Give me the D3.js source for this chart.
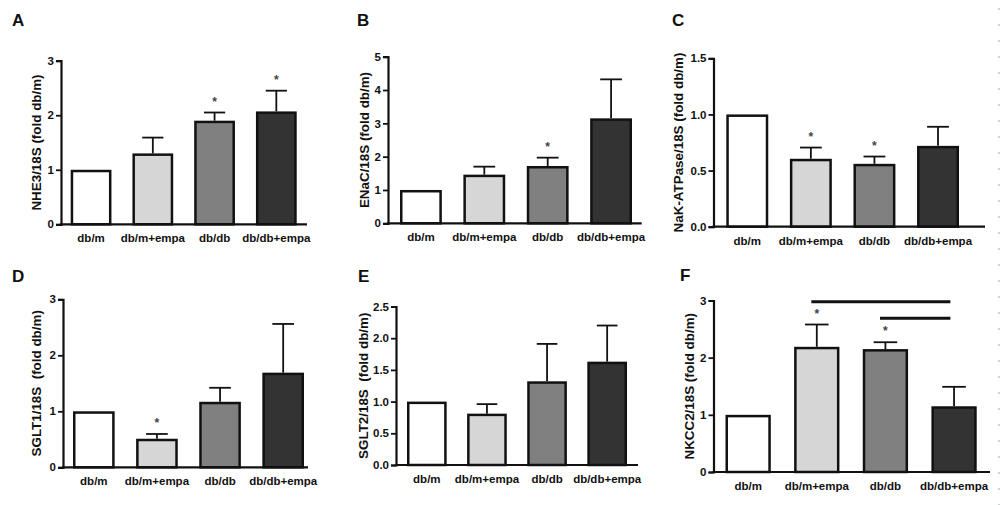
<!DOCTYPE html>
<html><head><meta charset="utf-8">
<script src="https://cdn.jsdelivr.net/npm/d3@7/dist/d3.min.js"></script>
<style>
html,body{margin:0;padding:0;background:#fff;}
svg{display:block;}
text{font-family:"Liberation Sans",Arial,sans-serif;font-weight:bold;fill:#111;}
</style></head>
<body>
<svg id="chart" width="1000" height="505"></svg>
<script>
const categories = ["db/m", "db/m+empa", "db/db", "db/db+empa"];
const barColors = ["#ffffff", "#d6d6d6", "#808080", "#333333"];
const panelLetters = ["A", "B", "C", "D", "E", "F"];
const yLabels = ["NHE3/18S (fold db/m)", "ENaC/18S (fold db/m)", "NaK-ATPase/18S (fold db/m)",
                 "SGLT1/18S  (fold db/m)", "SGLT2/18S  (fold db/m)", "NKCC2/18S (fold db/m)"];

const nhe3Mean = [1, 1.30, 1.90, 2.07];
const nhe3Sem = [0, 0.29, 0.15, 0.38];
const nhe3Star = [false, false, true, true];
const nhe3Ticks = [0, 1, 2, 3];

const enacMean = [1, 1.46, 1.72, 3.15];
const enacSem = [0, 0.24, 0.25, 1.17];
const enacStar = [false, false, true, false];
const enacTicks = [0, 1, 2, 3, 4, 5];

const nakMean = [1, 0.605, 0.56, 0.72];
const nakSem = [0, 0.10, 0.065, 0.17];
const nakStar = [false, true, true, false];
const nakTicks = [0, 0.5, 1.0, 1.5];

const sglt1Mean = [1, 0.51, 1.17, 1.69];
const sglt1Sem = [0, 0.085, 0.25, 0.87];
const sglt1Star = [false, true, false, false];
const sglt1Ticks = [0, 1, 2, 3];

const sglt2Mean = [1, 0.81, 1.32, 1.63];
const sglt2Sem = [0, 0.15, 0.59, 0.57];
const sglt2Star = [false, false, false, false];
const sglt2Ticks = [0, 0.5, 1.0, 1.5, 2.0, 2.5];

const nkcc2Mean = [1, 2.19, 2.15, 1.15];
const nkcc2Sem = [0, 0.39, 0.12, 0.34];
const nkcc2Star = [false, true, true, false];
const nkcc2Ticks = [0, 1, 2, 3];
const nkcc2SigFrom = [1, 2];
const nkcc2SigTo = [3, 3];
const nkcc2SigLevel = [2.98, 2.69];

const panelsData = [
  {mean: nhe3Mean, sem: nhe3Sem, star: nhe3Star, ticks: nhe3Ticks, dec: 0},
  {mean: enacMean, sem: enacSem, star: enacStar, ticks: enacTicks, dec: 0},
  {mean: nakMean, sem: nakSem, star: nakStar, ticks: nakTicks, dec: 1},
  {mean: sglt1Mean, sem: sglt1Sem, star: sglt1Star, ticks: sglt1Ticks, dec: 0},
  {mean: sglt2Mean, sem: sglt2Sem, star: sglt2Star, ticks: sglt2Ticks, dec: 1},
  {mean: nkcc2Mean, sem: nkcc2Sem, star: nkcc2Star, ticks: nkcc2Ticks, dec: 0,
   sig: nkcc2SigFrom.map((f, i) => ({from: f, to: nkcc2SigTo[i], level: nkcc2SigLevel[i]}))}
];

// layout (pixels)
const layouts = [
  {ax: 61,    y0: 224.3, yTop: 60.7,  xEnd: 307,   b0: 70.7,  b1: 296.7, lx: 12,  ly: 26,  lo: 24},
  {ax: 388,   y0: 223.3, yTop: 56.7,  xEnd: 641.7, b0: 400,   b1: 632,   lx: 357, ly: 26,  lo: 23},
  {ax: 713.5, y0: 226.7, yTop: 58.3,  xEnd: 985,   b0: 726.3, b1: 959,   lx: 672, ly: 26,  lo: 34},
  {ax: 63,    y0: 467.3, yTop: 299.3, xEnd: 308,   b0: 73,    b1: 304,   lx: 12,  ly: 282, lo: 26},
  {ax: 396,   y0: 465,   yTop: 306.5, xEnd: 638,   b0: 407,   b1: 627,   lx: 358, ly: 282, lo: 31.5},
  {ax: 713.5, y0: 472,   yTop: 300.5, xEnd: 990,   b0: 725.5, b1: 976.7, lx: 680, ly: 281, lo: 23}
];

const svg = d3.select("#chart");

// faint dotted page edge at right
svg.append("line").attr("x1", 999).attr("x2", 999).attr("y1", 8).attr("y2", 505)
  .attr("stroke", "#9aa5a5").attr("stroke-width", 1).attr("stroke-dasharray", "2,14");

panelsData.forEach((p, i) => {
  const L = layouts[i];
  const g = svg.append("g");
  const yMax = p.ticks[p.ticks.length - 1];
  const y = d3.scaleLinear().domain([0, yMax]).range([L.y0, L.yTop]);
  const x = d3.scaleBand().domain(categories).range([L.b0, L.b1]).paddingInner(0.34).paddingOuter(0);
  const bw = x.bandwidth();

  // panel letter
  g.append("text").attr("x", L.lx).attr("y", L.ly).attr("font-size", 17).text(panelLetters[i]);

  // y-axis label
  g.append("text")
    .attr("transform", `translate(${L.ax - L.lo},${(L.y0 + L.yTop) / 2}) rotate(-90)`)
    .attr("text-anchor", "middle").attr("dominant-baseline", "middle")
    .attr("font-size", 13.4).style("white-space", "pre").text(yLabels[i]);

  // bars
  categories.forEach((c, k) => {
    const m = p.mean[k], s = p.sem[k];
    const cx = x(c) + bw / 2;
    if (s > 0) {
      g.append("line").attr("x1", cx).attr("x2", cx).attr("y1", y(m)).attr("y2", y(m + s))
        .attr("stroke", "#111").attr("stroke-width", 1.8);
      g.append("line").attr("x1", cx - bw * 0.26).attr("x2", cx + bw * 0.26)
        .attr("y1", y(m + s)).attr("y2", y(m + s))
        .attr("stroke", "#111").attr("stroke-width", 1.8);
    }
    g.append("rect").attr("x", x(c) + 1.25).attr("y", y(m) + 1.25)
      .attr("width", bw - 2.5).attr("height", y(0) - y(m) - 1.25)
      .attr("fill", barColors[k]).attr("stroke", "#111").attr("stroke-width", 2.5);
    if (p.star[k]) {
      g.append("text").attr("x", cx).attr("y", y(m + s) - 7).attr("text-anchor", "middle")
        .attr("font-size", 12).attr("font-weight", "normal").style("fill", "#444").text("*");
    }
    // category label
    g.append("text").attr("x", cx).attr("y", L.y0 + 18).attr("text-anchor", "middle")
      .attr("font-size", 11.5).text(c);
  });

  // axes
  const yAxis = d3.axisLeft(y).tickValues(p.ticks).tickSize(5).tickPadding(2)
    .tickFormat(d3.format(p.dec ? ".1f" : "d"));
  const ya = g.append("g").attr("transform", `translate(${L.ax},0)`).call(yAxis);
  ya.select(".domain").attr("stroke", "#111").attr("stroke-width", 2.2);
  ya.selectAll(".tick line").attr("stroke", "#111").attr("stroke-width", 1.8);
  ya.selectAll(".tick text").attr("font-size", 11.5).attr("font-family", "Liberation Sans, Arial, sans-serif")
    .attr("font-weight", "bold").style("fill", "#111");
  g.append("line").attr("x1", L.ax - 1).attr("x2", L.xEnd).attr("y1", L.y0).attr("y2", L.y0)
    .attr("stroke", "#111").attr("stroke-width", 2.2);

  // significance lines
  if (p.sig) {
    p.sig.forEach(s => {
      const xa = x(categories[s.from]) + bw * 0.38;
      const xb = x(categories[s.to]) + bw * 0.42;
      g.append("line").attr("x1", xa).attr("x2", xb).attr("y1", y(s.level)).attr("y2", y(s.level))
        .attr("stroke", "#111").attr("stroke-width", 3);
    });
  }
});
</script>
</body></html>
